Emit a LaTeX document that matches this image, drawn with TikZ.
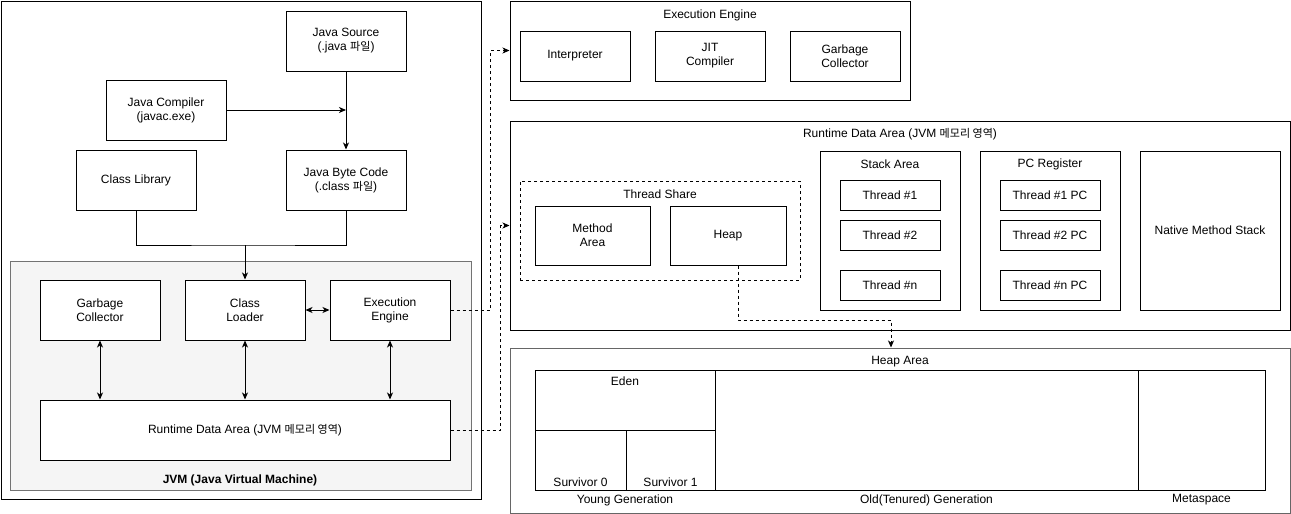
\documentclass[tikz,border=0pt]{standalone}
\usepackage{fontspec}
\setmainfont{Liberation Sans}
\newfontfamily\kr{Noto Sans CJK KR}[Scale=0.92]
\usetikzlibrary{arrows.meta}

\begin{document}
\begin{tikzpicture}[x=1pt, y=-1pt,
    every node/.style={font=\fontsize{12}{14}\selectfont, align=center, inner sep=0pt},
    wh/.style 2 args={minimum width=#1pt, minimum height=#2pt},
    box/.style={draw, fill=white, line width=1pt},
    arr/.style={line width=1pt, -{Stealth[length=7pt,width=6pt,inset=2pt]}},
    darr/.style={line width=1pt, {Stealth[length=7pt,width=6pt,inset=2pt]}-{Stealth[length=7pt,width=6pt,inset=2pt]}},
    dasharr/.style={arr, line width=0.9pt, dash pattern=on 3pt off 3pt}]
  \useasboundingbox (0,0) rectangle (1291,514);

  % left part: JVM
  \node[box, wh={480}{498}] (outer) at (241,250) {};
  \node[draw=black!55, fill=black!4, line width=1pt, wh={461}{229}] (jvm) at (240.5,375.5) {};
  \node[font=\fontsize{12}{14}\selectfont\bfseries] (jvmlbl) at (240,480) {JVM (Java Virtual Machine)};

  \node[box, wh={120}{60}] (src) at (346,41) {Java Source\\(.java {\kr 파일})};
  \node[box, wh={120}{60}] (javac) at (166,110) {Java Compiler\\(javac.exe)};
  \node[box, wh={120}{60}] (clib) at (136,180) {Class Library};
  \node[box, wh={120}{60}] (bcode) at (346,180) {Java Byte Code\\(.class {\kr 파일})};

  \node[box, wh={120}{60}] (gc) at (100,310) {Garbage\\Collector};
  \node[box, wh={120}{60}] (cl) at (245,310) {Class\\Loader};
  \node[box, wh={120}{60}] (ee) at (390,310) {Execution\\Engine};
  \node[box, wh={410}{60}] (rda) at (245,430) {Runtime Data Area (JVM {\kr 메모리 영역})};

  \coordinate (jn) at (245,245);
  \draw[arr] (src) -- (bcode);
  \draw[arr] (javac) -- (javac.east -| src.south);
  \draw[line width=1pt] (clib.south) |- (jn) -| (bcode.south);
  \draw[arr] (jn) -- (cl);
  \draw[darr] (cl) -- (ee);
  \draw[darr] (gc.south) -- (gc.south |- rda.north);
  \draw[darr] (cl.south) -- (rda.north);
  \draw[darr] (ee.south) -- (ee.south |- rda.north);

  % right part: execution engine
  \node[box, wh={400}{99}] (eebox) at (710,50.5) {};
  \node (eelbl) at (710,15) {Execution Engine};
  \node[box, wh={110}{50}] (interp) at (575,56) {Interpreter};
  \node[box, wh={110}{50}] (jit) at (710,56) {JIT\\Compiler};
  \node[box, wh={110}{50}] (gc2) at (845,56) {Garbage\\Collector};

  % runtime data area
  \node[box, wh={780}{209}] (rdabox) at (900,225.5) {};
  \node (rdalbl) at (900,134) {Runtime Data Area (JVM {\kr 메모리 영역})};
  \node[draw, line width=0.9pt, dash pattern=on 3pt off 3pt, wh={280}{99}] (share) at (660,230.5) {};
  \node (sharelbl) at (660,194) {Thread Share};
  \node[box, wh={115}{59}] (marea) at (592.5,235.5) {Method\\Area};
  \node[box, wh={116}{59}] (heap) at (728,235.5) {Heap};

  \node[box, wh={140}{159}] (stack) at (890,230.5) {};
  \node (stacklbl) at (890,164) {Stack Area};
  \node[box, wh={100}{30}] (t1) at (890,195) {Thread \#1};
  \node[box, wh={100}{30}] (t2) at (890,235) {Thread \#2};
  \node[box, wh={100}{30}] (tn) at (890,285) {Thread \#n};

  \node[box, wh={140}{159}] (pc) at (1050,230.5) {};
  \node (pclbl) at (1050,164) {PC Register};
  \node[box, wh={100}{30}] (pc1) at (1050,195) {Thread \#1 PC};
  \node[box, wh={100}{30}] (pc2) at (1050,235) {Thread \#2 PC};
  \node[box, wh={100}{30}] (pcn) at (1050,285) {Thread \#n PC};

  \node[box, wh={140}{159}] (native) at (1210,230.5) {Native Method Stack};

  % heap area
  \node[draw=black!60, fill=white, line width=1pt, wh={780}{165}] (heapbox) at (900,430.5) {};
  \node (heaplbl) at (900,362) {Heap Area};
  \node[box, wh={180}{60}] (eden) at (625,400) {};
  \node[anchor=north] (edenlbl) at (625,377) {Eden};
  \node[box, wh={91}{60}] (s0) at (580.5,460) {};
  \node[anchor=south] (s0lbl) at (580.5,487) {Survivor 0};
  \node[box, wh={89}{60}] (s1) at (670.5,460) {};
  \node[anchor=south] (s1lbl) at (670.5,487) {Survivor 1};
  \node[box, wh={423}{120}] (old) at (926.5,430) {};
  \node[box, wh={127}{120}] (meta) at (1201.5,430) {};
  \node (younglbl) at (625,500) {Young Generation};
  \node (oldlbl) at (926.5,500) {Old(Tenured) Generation};
  \node (metalbl) at (1201.5,500) {Metaspace};

  % dashed links
  \coordinate (hbend) at (891,320);
  \draw[dasharr] (ee.east) -- ++(40,0) |- (eebox.west);
  \draw[dasharr] (rda.east) -- ++(50,0) |- (rdabox.west);
  \draw[dasharr] ([xshift=10pt]heap.south) |- (hbend) -- (hbend |- heapbox.north);
\end{tikzpicture}
\end{document}
